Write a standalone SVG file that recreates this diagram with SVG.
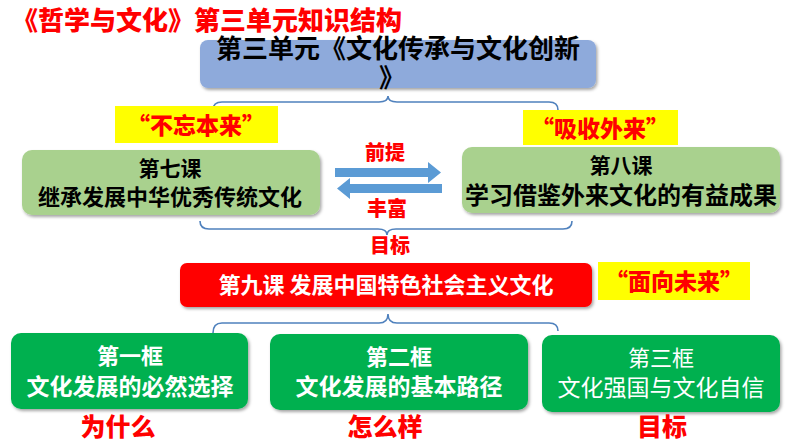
<svg xmlns="http://www.w3.org/2000/svg" width="794" height="447" viewBox="0 0 794 447">
<style>
text{font-family:"Noto Sans CJK SC","Noto Sans",sans-serif;text-anchor:middle}
.red{fill:#ff0000;font-weight:900}
.blk{fill:#000;font-weight:700}
.wht{fill:#fff;font-weight:700}
.brace{fill:none;stroke:#4f81bd;stroke-width:1.6}
.arrow{fill:#5b9bd5}
.yel{fill:#ffff00}
</style>
<defs>
<filter id="sh" x="-10%" y="-20%" width="120%" height="150%">
<feDropShadow dx="1.5" dy="2" stdDeviation="1.5" flood-color="#000" flood-opacity="0.35"/>
</filter>
</defs>
<rect width="794" height="447" fill="#fff"/>
<text x="207" y="30" class="red" font-size="26">《哲学与文化》第三单元知识结构</text>

<g id="unit">
<rect x="200" y="40" width="396" height="48" rx="8" fill="#8eaadb" filter="url(#sh)"/>
<text x="398" y="58" class="blk" font-size="26" font-weight="900">第三单元《文化传承与文化创新</text>
<text x="392" y="87" class="blk" font-size="26">》</text>
</g>

<g id="connectors">
<path class="brace" d="M213,110 Q213,102 222,102 L379,102 Q388,102 388,96 Q388,102 397,102 L549,102 Q558,102 558,110"/>
<path class="brace" d="M200,221 Q200,229 209,229 L378,229 Q387,229 387,235 Q387,229 396,229 L563,229 Q572,229 572,221"/>
<path class="brace" d="M213,333 Q213,323 222,323 L379,323 Q388,323 388,314 Q388,323 397,323 L549,323 Q558,323 558,331"/>
<polygon class="arrow" points="335,168 428,168 428,162 441,172.5 428,183 428,177 335,177"/>
<polygon class="arrow" points="442,184 350,184 350,178 337,188.5 350,199 350,193 442,193"/>
</g>

<g id="label-buwang">
<rect x="115" y="106" width="163" height="37" class="yel"/>
<text x="196" y="134" class="red" font-size="23">“不忘本来”</text>
</g>
<g id="label-xishou">
<rect x="523" y="110" width="155" height="35" class="yel"/>
<text x="600" y="137" class="red" font-size="23">“吸收外来”</text>
</g>

<g id="lesson7">
<rect x="22" y="150" width="298" height="65" rx="10" fill="#a9d18e" filter="url(#sh)"/>
<text x="170" y="176" class="blk" font-size="21">第七课</text>
<text x="170" y="205" class="blk" font-size="22">继承发展中华优秀传统文化</text>
</g>
<g id="lesson8">
<rect x="462" y="147" width="318" height="66" rx="10" fill="#a9d18e" filter="url(#sh)"/>
<text x="621" y="173" class="blk" font-size="21">第八课</text>
<text x="621" y="204" class="blk" font-size="24">学习借鉴外来文化的有益成果</text>
</g>

<text x="385" y="160" class="red" font-size="20">前提</text>
<text x="387" y="216" class="red" font-size="20">丰富</text>
<text x="390" y="253" class="red" font-size="20">目标</text>

<g id="lesson9">
<rect x="180" y="263" width="412" height="44" rx="7" fill="#ff0000" filter="url(#sh)"/>
<text x="386" y="293" class="wht" font-size="22">第九课 发展中国特色社会主义文化</text>
</g>
<g id="label-mianxiang">
<rect x="598" y="262" width="152" height="38" class="yel"/>
<text x="674" y="290" class="red" font-size="23">“面向未来”</text>
</g>

<g id="frame1">
<rect x="11" y="333" width="237" height="76" rx="10" fill="#00b050" filter="url(#sh)"/>
<text x="130" y="364" class="wht" font-size="22">第一框</text>
<text x="130" y="395" class="wht" font-size="23">文化发展的必然选择</text>
</g>
<g id="frame2">
<rect x="270" y="334" width="258" height="76" rx="10" fill="#00b050" filter="url(#sh)"/>
<text x="399" y="365" class="wht" font-size="22">第二框</text>
<text x="399" y="395" class="wht" font-size="23">文化发展的基本路径</text>
</g>
<g id="frame3">
<rect x="542" y="335" width="238" height="77" rx="10" fill="#00b050" filter="url(#sh)"/>
<text x="661" y="366" fill="#fff" font-size="22">第三框</text>
<text x="661" y="396" fill="#fff" font-size="23">文化强国与文化自信</text>
</g>

<text x="118" y="436" class="red" font-size="25">为什么</text>
<text x="385" y="436" class="red" font-size="25">怎么样</text>
<text x="662" y="436" class="red" font-size="25">目标</text>
</svg>
